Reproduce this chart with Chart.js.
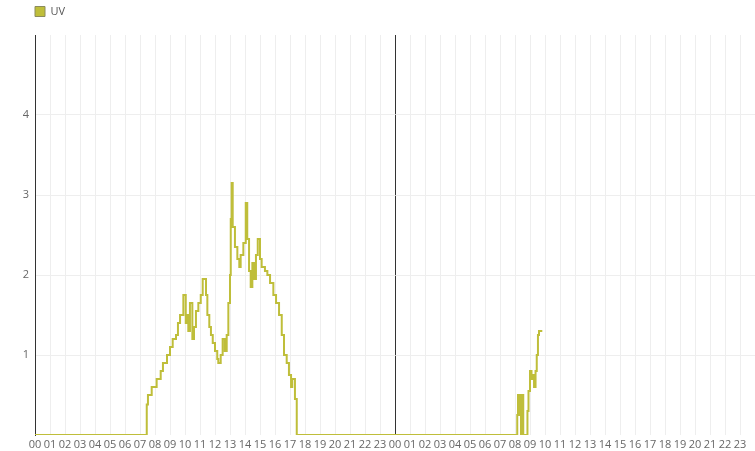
<!DOCTYPE html>
<html>
<head>
<meta charset="utf-8">
<script src="https://cdn.jsdelivr.net/npm/chart.js@4"></script>
<style>
  body { margin: 0; background: #fff; }
  #wrap { width: 755px; height: 451px; position: relative; }
</style>
</head>
<body>
<div id="wrap"><canvas id="uvChart"></canvas></div>
<script>
// hours since midnight of day 1 (0..48), value changes of the UV index
const hours = [0, 7.45, 7.53, 7.78, 8.11, 8.38, 8.53, 8.8, 9.0, 9.18, 9.4, 9.53, 9.67, 9.89,
  10.05, 10.15, 10.22, 10.33, 10.49, 10.6, 10.73, 10.89, 11.05, 11.18, 11.4, 11.49, 11.62, 11.73, 11.85,
  12.0, 12.15, 12.22, 12.38, 12.51, 12.65, 12.78, 12.89, 13.0, 13.05, 13.11, 13.18, 13.33, 13.49, 13.62,
  13.71, 13.89, 14.05, 14.15, 14.27, 14.38, 14.49, 14.6, 14.73, 14.85, 15.0, 15.11, 15.33, 15.49, 15.67,
  15.89, 16.07, 16.27, 16.45, 16.6, 16.78, 16.93, 17.07, 17.15, 17.33, 17.45,
  24, 32.15, 32.2, 32.27, 32.33, 32.4, 32.47, 32.55, 32.83, 32.9, 33.0, 33.1, 33.2, 33.27, 33.37,
  33.45, 33.53, 33.6, 33.82];
const uv = [0, 0.38, 0.5, 0.6, 0.7, 0.8, 0.9, 1.0, 1.1, 1.2, 1.25, 1.4, 1.5, 1.75,
  1.4, 1.5, 1.3, 1.65, 1.2, 1.35, 1.55, 1.65, 1.75, 1.95, 1.75, 1.5, 1.35, 1.25, 1.15,
  1.05, 0.95, 0.9, 1.0, 1.2, 1.05, 1.25, 1.65, 2.0, 2.7, 3.15, 2.6, 2.35, 2.2, 2.1,
  2.25, 2.4, 2.9, 2.45, 2.05, 1.85, 2.15, 1.95, 2.25, 2.45, 2.2, 2.1, 2.05, 2.0, 1.9,
  1.75, 1.65, 1.5, 1.25, 1.0, 0.9, 0.75, 0.6, 0.7, 0.45, 0,
  0, 0.25, 0.5, 0.25, 0.5, 0, 0.5, 0, 0.3, 0.55, 0.8, 0.7, 0.75, 0.6, 0.8,
  1.0, 1.25, 1.3, 1.3];

const lineColor = "#bfbe3a";

Chart.defaults.font.family = "'Open Sans', sans-serif";
Chart.defaults.font.size = 11;
Chart.defaults.color = "#666";

// legend box at x=35 near the top, plot area starting at y=35
const legendSpace = {
  id: "legendSpace",
  beforeLayout(chart) {
    const lg = chart.legend;
    if (lg && !lg._patched) {
      const fit = lg.fit.bind(lg);
      lg.fit = function () { fit(); this.height = 35; };
      lg._patched = true;
    }
  },
  afterLayout(chart) {
    if (chart.legend) {
      chart.legend.left = 25;
      chart.legend.top = -4;
    }
  }
};

const ctx = document.getElementById("uvChart").getContext("2d");
new Chart(ctx, {
  type: "line",
  data: {
    datasets: [{
      label: "UV",
      data: hours.map((h, i) => ({ x: h, y: uv[i] })),
      borderColor: lineColor,
      backgroundColor: lineColor,
      borderWidth: 2,
      pointRadius: 0,
      stepped: true,
      fill: false
    }]
  },
  options: {
    responsive: true,
    maintainAspectRatio: false,
    animation: false,
    layout: { padding: 0 },
    plugins: {
      tooltip: { enabled: false },
      legend: {
        align: "start",
        labels: {
          boxWidth: 10,
          boxHeight: 10,
          padding: 10,
          color: "#555",
          generateLabels(chart) {
            return Chart.defaults.plugins.legend.labels.generateLabels(chart).map(l => {
              l.strokeStyle = "#8c8c5c";
              l.lineWidth = 1;
              return l;
            });
          }
        }
      }
    },
    scales: {
      x: {
        type: "linear",
        min: 0,
        max: 48,
        afterFit(scale) { scale.paddingRight = 0; scale.height = 16; },
        border: { display: false },
        grid: {
          drawTicks: false,
          color: c => (c.tick && c.tick.value === 24) ? "#333" : "#eeeeee"
        },
        ticks: {
          stepSize: 1,
          autoSkip: false,
          maxRotation: 0,
          padding: 3,
          color: "#666",
          callback: v => v === 48 ? "" : String(v % 24).padStart(2, "0")
        }
      },
      y: {
        min: 0,
        max: 5,
        afterFit(scale) { scale.width = 35; },
        border: { color: "#333", width: 1 },
        grid: {
          drawTicks: false,
          color: c => (c.tick && (c.tick.value === 0 || c.tick.value === 5)) ? "rgba(0,0,0,0)" : "#eeeeee"
        },
        ticks: {
          stepSize: 1,
          padding: 6,
          color: "#666",
          callback: v => (v === 0 || v === 5) ? "" : v
        }
      }
    }
  },
  plugins: [legendSpace]
});
</script>
</body>
</html>
